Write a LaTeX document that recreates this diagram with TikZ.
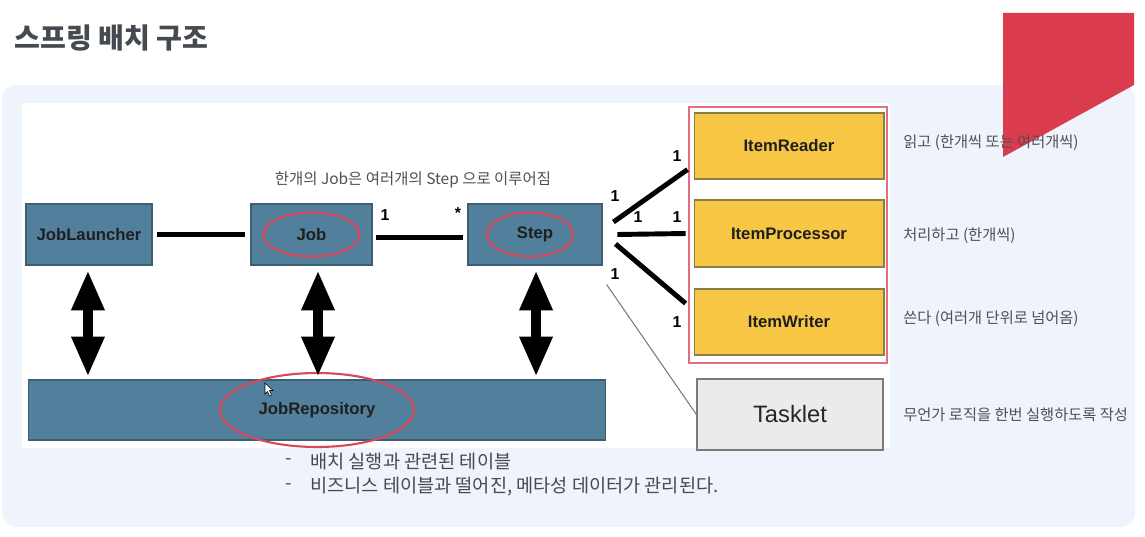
\documentclass[tikz,border=0pt]{standalone}
\usepackage{fontspec}
\setmainfont{Liberation Sans}
\newfontfamily\kr{Noto Sans CJK KR}
\usetikzlibrary{arrows.meta}
\definecolor{panel}{HTML}{EEF3FC}
\definecolor{boxblue}{HTML}{517F9C}
\definecolor{boxedge}{HTML}{3D5F74}
\definecolor{itemyel}{HTML}{F6C644}
\definecolor{itemedge}{HTML}{8C7D45}
\definecolor{ringred}{HTML}{D8475A}
\definecolor{flagred}{HTML}{DA3C4E}
\definecolor{outerred}{HTML}{E07080}
\definecolor{titlegray}{HTML}{454A50}
\definecolor{descgray}{HTML}{505050}
\definecolor{taskfill}{HTML}{EBEBEB}
\definecolor{taskedge}{HTML}{7A7A7A}
\tikzset{
  bluebox/.style={draw=boxedge, fill=boxblue, line width=0.6pt, inner sep=0pt,
    font=\bfseries\fontsize{9.5}{11}\selectfont, text=black!88},
  itembox/.style={draw=itemedge, fill=itemyel, line width=0.6pt, inner sep=0pt,
    minimum width=3.8cm, font=\bfseries\fontsize{9.5}{11}\selectfont, text=black!88},
  conn/.style={line width=2.8pt, black},
  dbl/.style={line width=5.4pt, black,
    {Triangle[length=22.7pt,width=17.6pt]}-{Triangle[length=22.7pt,width=17.6pt]}},
  ring/.style={draw=ringred, line width=1.2pt},
  mult/.style={font=\bfseries\fontsize{9}{10}\selectfont, inner sep=0pt},
  desc/.style={font=\kr\fontsize{8.7}{10}\selectfont, text=descgray, anchor=west, inner sep=0pt},
  bullet/.style={font=\kr\fontsize{10.6}{12}\selectfont, text=titlegray, anchor=west, inner sep=0pt}
}
\begin{document}
\begin{tikzpicture}[x=0.02cm,y=-0.02cm]
\useasboundingbox (0,0) rectangle (1145,537);
\fill[white] (0,0) rectangle (1145,537);
% background panel
\fill[panel, rounded corners=0.3cm] (2,85) rectangle (1135,527);
% red flag
\fill[flagred] (1003,13) -- (1134,13) -- (1134,85) -- (1003,157) -- cycle;
% white diagram area
\fill[white] (22,103) rectangle (890,448);
% title
\node[anchor=west, inner sep=0pt, text=titlegray, font=\kr\bfseries\fontsize{16}{18}\selectfont] (title) at (14,38) {스프링 배치 구조};

% main boxes
\node[bluebox, minimum width=2.52cm, minimum height=1.22cm] (jl) at (89,234.5) {JobLauncher};
\node[bluebox, minimum width=2.42cm, minimum height=1.22cm] (job) at (311.5,234.5) {Job};
\node[bluebox, minimum width=2.68cm, minimum height=1.22cm] (step) at (535,234.5) {Step};
\node[bluebox, minimum width=11.56cm, minimum height=1.2cm] (repo) at (317,410) {JobRepository};

% rings
\draw[ring] (job.center) ellipse [x radius=0.96cm, y radius=0.44cm];
\draw[ring] ([xshift=-2.8pt]step.center) ellipse [x radius=0.86cm, y radius=0.44cm];
\draw[ring] (repo.center) ellipse [x radius=1.94cm, y radius=0.74cm];

% cursor
\filldraw[fill=white, draw=black, line width=0.3pt] (265,383) -- (265,394) -- (267.5,391.5) -- (269.5,396) -- (271.5,395) -- (269.5,390.5) -- (273,390.5) -- cycle;

% caption
\node[font=\kr\fontsize{8.8}{10}\selectfont, text=descgray, inner sep=0pt] (cap) at (413,180) {한개의 Job은 여러개의 Step 으로 이루어짐};

% horizontal connectors
\draw[conn, shorten <=2.3pt, shorten >=3.4pt] (jl.east) -- (job.west);
\draw[conn, shorten <=1.7pt, shorten >=2.3pt] ([yshift=-1.7pt]job.east) -- ([yshift=-1.7pt]step.west);
\node[mult] (m1) at (385,215) {1};
\node[mult] (m2) at (458,213) {*};

% double arrows
\draw[dbl, shorten <=2.8pt, shorten >=1.7pt] ([xshift=-0.6pt]jl.south) -- ([xshift=-0.6pt]jl.south |- repo.north);
\draw[dbl, shorten <=2.8pt, shorten >=1.7pt] ([xshift=3.7pt]job.south) -- ([xshift=3.7pt]job.south |- repo.north);
\draw[dbl, shorten <=2.8pt, shorten >=1.7pt] ([xshift=0.6pt]step.south) -- ([xshift=0.6pt]step.south |- repo.north);

% item boxes
\draw[outerred, line width=0.7pt] (689,107) rectangle (887,363);
\node[itembox, minimum height=1.32cm] (reader) at (789,146) {ItemReader};
\node[itembox, minimum height=1.34cm] (proc) at (789,233.5) {ItemProcessor};
\node[itembox, minimum height=1.32cm] (writer) at (789,322) {ItemWriter};

% step to items
\coordinate (s1) at ([xshift=6.2pt, yshift=7.1pt]step.east);
\coordinate (s2) at ([xshift=8.5pt]step.east);
\coordinate (s3) at ([xshift=7.4pt, yshift=-5.4pt]step.east);
\draw[conn] (s1) -- ([xshift=-3.4pt, yshift=5.7pt]reader.south west);
\draw[conn] (s2) -- ([xshift=-4.5pt]proc.west);
\draw[conn] (s3) -- ([xshift=-4.5pt, yshift=-8.5pt]writer.north west);
\node[mult] (n1) at (615,196) {1};
\node[mult] (n2) at (677,156) {1};
\node[mult] (n3) at (638,217) {1};
\node[mult] (n4) at (677,217) {1};
\node[mult] (n5) at (615,274) {1};
\node[mult] (n6) at (677,322) {1};

% tasklet
\node[draw=taskedge, fill=taskfill, line width=0.7pt, minimum width=3.72cm, minimum height=1.42cm, inner sep=0pt, font=\fontsize{13.5}{15}\selectfont, text=black!85] (task) at (790,414.5) {Tasklet};
\coordinate (t0) at ([xshift=2.3pt, yshift=-10.8pt]step.south east);
\draw[taskedge, line width=0.6pt] (t0) -- (task.west);

% descriptions
\node[desc] (d1) at (903,143) {읽고 (한개씩 또는 여러개씩)};
\node[desc] (d2) at (903,236) {처리하고 (한개씩)};
\node[desc] (d3) at (903,319) {쓴다 (여러개 단위로 넘어옴)};
\node[desc] (d4) at (903,415) {무언가 로직을 한번 실행하도록 작성};

% bullets
\node[bullet] (b1d) at (285,462) {-};
\node[bullet] (b1) at (310,462) {배치 실행과 관련된 테이블};
\node[bullet] (b2d) at (285,487) {-};
\node[bullet] (b2) at (310,487) {비즈니스 테이블과 떨어진, 메타성 데이터가 관리된다.};
\end{tikzpicture}
\end{document}
